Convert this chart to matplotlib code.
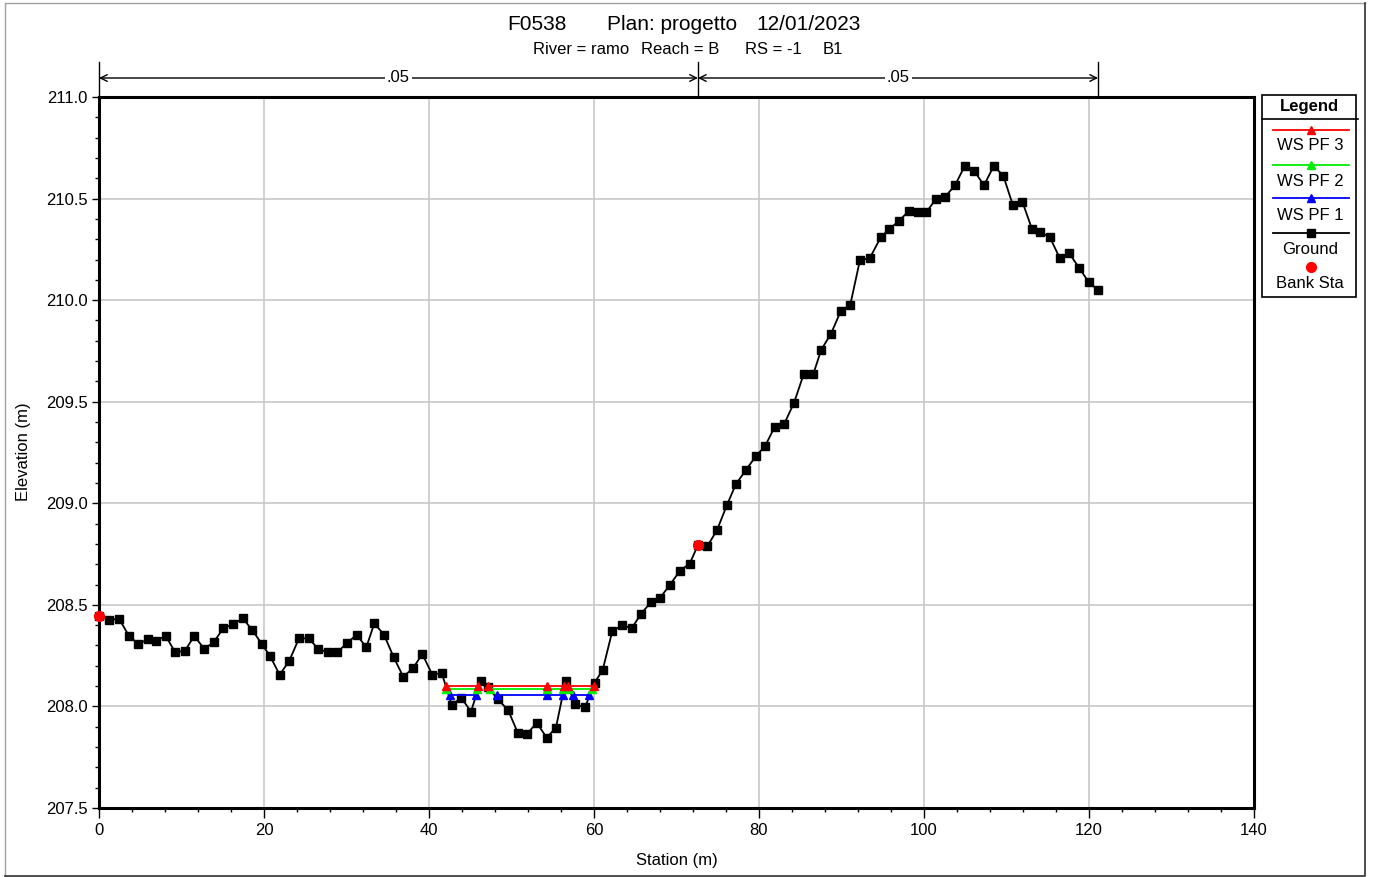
import numpy as np
import matplotlib.pyplot as plt
from matplotlib.ticker import MultipleLocator, FormatStrFormatter
from matplotlib.patches import Rectangle
from matplotlib.transforms import blended_transform_factory

plt.rcParams['font.family'] = ['Liberation Sans', 'DejaVu Sans']

# ============================================================
# Dati della sezione
# ============================================================

ground_sta = [
    0.0, 1.25, 2.42, 3.64, 4.76, 5.90, 6.91, 8.08, 9.25, 10.42,
    11.55, 12.76, 13.90, 15.07, 16.24, 17.42, 18.58, 19.76, 20.73, 21.90,
    23.07, 24.24, 25.42, 26.58, 27.72, 28.88, 30.10, 31.24, 32.40, 33.37,
    34.55, 35.72, 36.88, 38.06, 39.19, 40.40, 41.54,
    42.75, 43.92, 45.09, 46.27, 47.19, 48.33, 49.58, 50.75, 51.88, 53.05,
    54.27, 55.39, 56.57, 57.73, 58.91, 60.08, 61.05, 62.22, 63.39, 64.57,
    65.73, 66.91, 68.04, 69.21, 70.42, 71.60, 72.61, 73.73, 74.91, 76.12,
    77.21, 78.39, 79.60, 80.73, 81.90, 83.07, 84.24, 85.42, 86.58, 87.55,
    88.73, 89.90, 91.07, 92.24, 93.42, 94.75, 95.79, 96.97, 98.15, 99.31,
    100.28, 101.45, 102.58, 103.76, 104.93, 106.10, 107.27, 108.45, 109.61, 110.75,
    111.92, 113.09, 114.10, 115.27, 116.45, 117.61, 118.79, 119.96, 121.13
]

ground_elev = [
    208.447, 208.425, 208.432, 208.347, 208.307, 208.330, 208.322, 208.347, 208.266, 208.274,
    208.347, 208.283, 208.316, 208.385, 208.404, 208.434, 208.376, 208.306, 208.248, 208.156,
    208.225, 208.335, 208.335, 208.283, 208.266, 208.266, 208.314, 208.353, 208.291, 208.409,
    208.353, 208.242, 208.146, 208.188, 208.258, 208.156, 208.165,
    208.007, 208.043, 207.974, 208.127, 208.094, 208.035, 207.983, 207.871, 207.863, 207.920,
    207.846, 207.896, 208.127, 208.011, 207.995, 208.117, 208.179, 208.371, 208.399, 208.385,
    208.457, 208.514, 208.536, 208.599, 208.668, 208.703, 208.795, 208.788, 208.868, 208.992,
    209.095, 209.162, 209.231, 209.281, 209.376, 209.392, 209.494, 209.636, 209.636, 209.756,
    209.835, 209.945, 209.978, 210.198, 210.206, 210.309, 210.350, 210.390, 210.439, 210.433,
    210.433, 210.498, 210.510, 210.565, 210.660, 210.636, 210.565, 210.660, 210.613, 210.470,
    210.485, 210.350, 210.335, 210.309, 210.207, 210.230, 210.160, 210.089, 210.048
]

bank_sta = [0.0, 72.6]
bank_elev = [208.447, 208.795]

# pelo libero (nan = interruzione)
ws_pf3_sta = [42.0, 45.9, np.nan, 47.2, 54.3, 56.4, np.nan, 56.9, 60.0]
ws_pf3_elev = 208.101
ws_pf2_sta = [42.1, 45.8, np.nan, 47.4, 54.3, 56.3, np.nan, 57.0, 59.8]
ws_pf2_elev = 208.085
ws_pf1_sta = [42.5, 45.7, np.nan, 48.2, 54.3, 56.2, np.nan, 57.4, 59.4]
ws_pf1_elev = 208.057

mann_sta = [0.0, 72.6, 121.1]
mann_n = [".05", ".05"]

legend_labels = ["WS PF 3", "WS PF 2", "WS PF 1", "Ground", "Bank Sta"]

# ============================================================
# Figura
# ============================================================

W, H = 1373, 877
fig = plt.figure(figsize=(W / 100, H / 100), dpi=100)

ax = fig.add_axes([99 / W, 1 - 808 / H, (1254 - 99) / W, (808 - 97) / H])

ax.plot(ground_sta, ground_elev, color='black', lw=1.3,
        marker='s', ms=5.2, zorder=3, clip_on=False)

for sta, elev, col in [
    (ws_pf1_sta, ws_pf1_elev, '#0000ff'),
    (ws_pf2_sta, ws_pf2_elev, '#00ee00'),
    (ws_pf3_sta, ws_pf3_elev, '#ff0000'),
]:
    ax.plot(sta, [elev] * len(sta), color=col, lw=1.3,
            marker='^', ms=5.5, zorder=4)

ax.plot(bank_sta, bank_elev, ls='none', marker='o', color='#ff0000',
        ms=7, zorder=5, clip_on=False)

ax.set_xlim(0, 140)
ax.set_ylim(207.5, 211.0)
ax.xaxis.set_major_locator(MultipleLocator(20))
ax.xaxis.set_minor_locator(MultipleLocator(4))
ax.yaxis.set_major_locator(MultipleLocator(0.5))
ax.yaxis.set_minor_locator(MultipleLocator(0.1))
ax.yaxis.set_major_formatter(FormatStrFormatter('%.1f'))

ax.tick_params(which='major', direction='out', width=1, labelsize=12)
ax.tick_params(axis='x', which='major', length=7, pad=4)
ax.tick_params(axis='y', which='major', length=5, pad=3)
ax.tick_params(which='minor', direction='out', width=1, length=3)

ax.grid(which='major', color='#c8c8c8', lw=1.2)
ax.set_axisbelow(True)
for s in ax.spines.values():
    s.set_linewidth(2.2)

# Manning n
trans = blended_transform_factory(ax.transData, ax.transAxes)
y_line = (808 - 78) / 711
y_top = (808 - 62) / 711
for x in mann_sta:
    ax.plot([x, x], [1.0, y_top], transform=trans, color='black',
            lw=1, clip_on=False)
for i, lab in enumerate(mann_n):
    x0, x1 = mann_sta[i], mann_sta[i + 1]
    ax.annotate('', xy=(x0, y_line), xytext=(x1, y_line),
                xycoords=trans, textcoords=trans, annotation_clip=False,
                arrowprops=dict(arrowstyle='<->', lw=1, color='black',
                                shrinkA=0, shrinkB=0, mutation_scale=12))
    ax.text((x0 + x1) / 2, y_line, lab, transform=trans, fontsize=12,
            ha='center', va='center',
            bbox=dict(fc='white', ec='none', pad=1.5))

# ============================================================
# Testi, bordo e legenda (coordinate in pixel)
# ============================================================

ov = fig.add_axes([0, 0, 1, 1])
ov.set_xlim(0, W)
ov.set_ylim(H, 0)
ov.axis('off')

ov.plot([5, 5, 1365], [876, 3, 3], color='#a0a0a0', lw=1)
ov.plot([5, 1365, 1365], [876, 876, 3], color='#303030', lw=1.2)

for txt, x in [("F0538", 507), ("Plan: progetto", 607), ("12/01/2023", 756)]:
    ov.text(x, 25, txt, fontsize=15, ha='left', va='center')
for txt, x in [("River = ramo", 533), ("Reach = B", 641),
               ("RS = -1", 745), ("B1", 823)]:
    ov.text(x, 50, txt, fontsize=12, ha='left', va='center')

ov.text(677, 861, "Station (m)", fontsize=12, ha='center', va='center')
ov.text(24, 452, "Elevation (m)", fontsize=12, ha='center', va='center',
        rotation=90)

ov.add_patch(Rectangle((1262, 95), 94, 202, fill=False, ec='black', lw=1.2))
ov.plot([1262, 1358], [119, 119], color='black', lw=1.2)
ov.text(1309, 106, "Legend", fontsize=12, fontweight='bold',
        ha='center', va='center')

leg_lines = [130, 165, 198, 233, 267]
leg_texts = [146, 181, 215, 250, 283]
leg_styles = [('#ff0000', '^'), ('#00ee00', '^'), ('#0000ff', '^'),
              ('black', 's'), ('#ff0000', 'o')]
for i, lab in enumerate(legend_labels):
    col, mk = leg_styles[i]
    if mk != 'o':
        ov.plot([1273, 1349], [leg_lines[i]] * 2, color=col, lw=1.3)
        ov.plot([1311], [leg_lines[i]], color=col, marker=mk, ms=5.5)
    else:
        ov.plot([1311], [leg_lines[i]], color=col, marker=mk, ms=7)
    ov.text(1310, leg_texts[i], lab, fontsize=12, ha='center', va='center')

fig.savefig('out.png', dpi=100)
